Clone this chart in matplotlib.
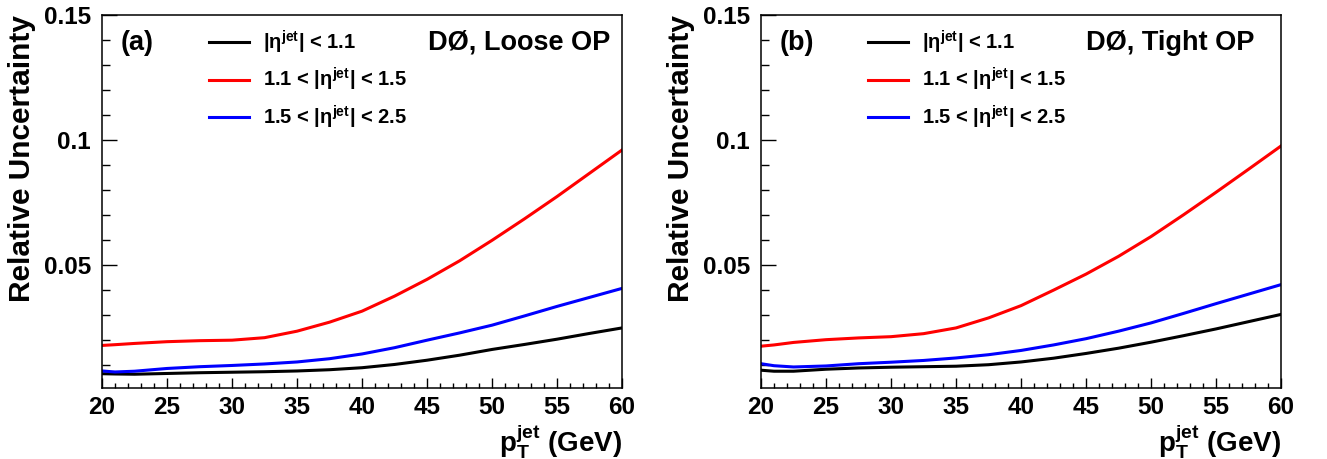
import matplotlib
matplotlib.use("Agg")
import matplotlib.pyplot as plt
from matplotlib import ticker

plt.rcParams['font.family'] = ['Liberation Sans', 'DejaVu Sans']
plt.rcParams['font.weight'] = 'bold'
plt.rcParams['axes.labelweight'] = 'bold'
plt.rcParams['mathtext.fontset'] = 'custom'
plt.rcParams['mathtext.rm'] = 'Liberation Sans:bold'
plt.rcParams['mathtext.it'] = 'Liberation Sans:bold'
plt.rcParams['mathtext.bf'] = 'Liberation Sans:bold'
plt.rcParams['mathtext.default'] = 'rm'

# jet pT points (GeV)
pt = [20, 21, 22.5, 25, 27.5, 30, 32.5, 35, 37.5, 40, 42.5, 45, 47.5, 50, 52.5, 55, 57.5, 60]

# (a) Loose OP
loose_central = [0.0067, 0.0066, 0.0065, 0.0068, 0.0071, 0.0073, 0.0075, 0.0078, 0.0083, 0.0091,
                 0.0104, 0.0121, 0.0141, 0.0164, 0.0184, 0.0205, 0.0228, 0.0250]
loose_icr = [0.0180, 0.0183, 0.0188, 0.0195, 0.0199, 0.0201, 0.0211, 0.0237, 0.0273, 0.0317,
             0.0377, 0.0444, 0.0518, 0.0600, 0.0686, 0.0775, 0.0868, 0.0961]
loose_fwd = [0.0078, 0.0074, 0.0077, 0.0088, 0.0095, 0.0100, 0.0106, 0.0114, 0.0127, 0.0146,
             0.0171, 0.0201, 0.0230, 0.0261, 0.0298, 0.0336, 0.0372, 0.0408]

# (b) Tight OP
tight_central = [0.0081, 0.0077, 0.0077, 0.0085, 0.0090, 0.0093, 0.0095, 0.0097, 0.0103, 0.0114,
                 0.0129, 0.0148, 0.0169, 0.0193, 0.0219, 0.0246, 0.0275, 0.0304]
tight_icr = [0.0177, 0.0182, 0.0192, 0.0203, 0.0210, 0.0215, 0.0227, 0.0250, 0.0290, 0.0339,
             0.0401, 0.0465, 0.0536, 0.0615, 0.0702, 0.0792, 0.0884, 0.0977]
tight_fwd = [0.0107, 0.0099, 0.0094, 0.0098, 0.0107, 0.0113, 0.0120, 0.0130, 0.0143, 0.0160,
             0.0182, 0.0207, 0.0237, 0.0270, 0.0308, 0.0347, 0.0385, 0.0423]

labels = [r'$|\eta^{jet}|$ < 1.1', r'1.1 < $|\eta^{jet}|$ < 1.5', r'1.5 < $|\eta^{jet}|$ < 2.5']
colors = ['black', 'red', 'blue']

panels = [
    ("(a)", "DØ, Loose OP", [loose_central, loose_icr, loose_fwd], 0.0769, 0.977),
    ("(b)", "DØ, Tight OP", [tight_central, tight_icr, tight_fwd], 0.5735, 0.948),
]

fig = plt.figure(figsize=(13.27, 4.59), dpi=100)

for tag, title, series, left, title_x in panels:
    ax = fig.add_axes([left, 0.1547, 0.3919, 0.8126])
    for ys, lab, col in zip(series, labels, colors):
        ax.plot(pt, ys, color=col, lw=2.2, label=lab)

    ax.set_xlim(20, 60)
    ax.set_ylim(0.001, 0.15)
    ax.xaxis.set_major_locator(ticker.MultipleLocator(5))
    ax.xaxis.set_minor_locator(ticker.MultipleLocator(1))
    ax.yaxis.set_major_locator(ticker.FixedLocator([0.05, 0.1, 0.15]))
    ax.yaxis.set_minor_locator(ticker.MultipleLocator(0.01))
    ax.yaxis.set_major_formatter(ticker.FormatStrFormatter('%g'))

    ax.tick_params(axis='both', which='both', direction='in', top=False, right=False,
                   width=1.0, labelsize=17.5)
    ax.tick_params(axis='x', which='major', length=7, pad=6)
    ax.tick_params(axis='x', which='minor', length=3.6)
    ax.tick_params(axis='y', which='major', length=11, pad=8)
    ax.tick_params(axis='y', which='minor', length=6)
    for sp in ax.spines.values():
        sp.set_linewidth(1.1)

    ax.set_ylabel("Relative Uncertainty", fontsize=21.5, fontweight='bold', loc='top')
    ax.yaxis.set_label_coords(-0.127, 1.0)
    ax.set_xlabel(r'$p_T^{jet}$ (GeV)', fontsize=20, fontweight='bold', loc='right')
    ax.xaxis.set_label_coords(1.0, -0.09)

    ax.text(0.035, 0.925, tag, transform=ax.transAxes, fontsize=19.5, ha='left', va='center')
    ax.text(title_x, 0.925, title, transform=ax.transAxes, fontsize=19.5, ha='right', va='center')

    ax.legend(loc='upper left', bbox_to_anchor=(0.206, 0.963), frameon=False, fontsize=14.5,
              handlelength=2.0, handletextpad=0.65, labelspacing=0.5, borderpad=0,
              borderaxespad=0)

fig.savefig("out.png", dpi=100)
